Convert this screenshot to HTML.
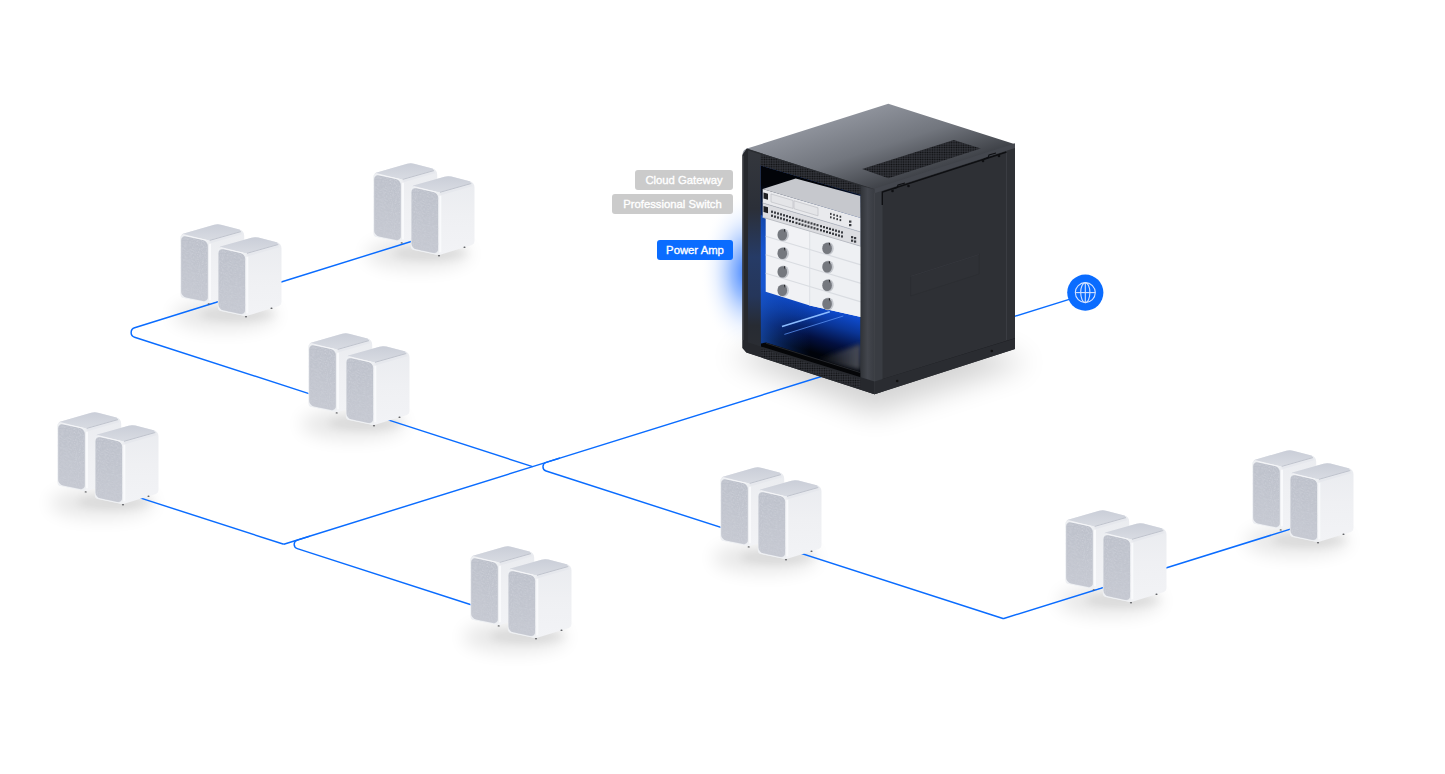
<!DOCTYPE html>
<html><head><meta charset="utf-8"><style>
html,body{margin:0;padding:0;background:#fff;width:1445px;height:774px;overflow:hidden}
svg{position:absolute;left:0;top:0}
.lb{position:absolute;height:20px;line-height:20px;border-radius:3px;color:#fff;font-family:"Liberation Sans",sans-serif;font-size:12px;text-align:center;box-sizing:border-box;font-size:11.3px;-webkit-text-stroke:0.35px #fff;white-space:nowrap}
</style></head><body>
<svg width="1445" height="774" viewBox="0 0 1445 774">
<defs>
<filter id="blur8" x="-50%" y="-50%" width="200%" height="200%"><feGaussianBlur stdDeviation="8"/></filter>
<filter id="blur14" x="-50%" y="-50%" width="200%" height="200%"><feGaussianBlur stdDeviation="14"/></filter>
<filter id="blur9" x="-50%" y="-50%" width="200%" height="200%"><feGaussianBlur stdDeviation="9"/></filter>
<filter id="noise" x="0" y="0" width="100%" height="100%"><feTurbulence type="fractalNoise" baseFrequency="0.9" numOctaves="2" seed="3" result="n"/><feColorMatrix in="n" type="matrix" values="0 0 0 0 0.6  0 0 0 0 0.62  0 0 0 0 0.68  3 0 0 0 -1.3" result="c"/><feComposite in="c" in2="SourceGraphic" operator="in"/></filter>
<filter id="blur4" x="-50%" y="-50%" width="200%" height="200%"><feGaussianBlur stdDeviation="4"/></filter>
<filter id="blur10" x="-50%" y="-50%" width="200%" height="200%"><feGaussianBlur stdDeviation="10"/></filter>
<linearGradient id="gside" x1="0" y1="0" x2="0" y2="1"><stop offset="0" stop-color="#e9ebef"/><stop offset="0.5" stop-color="#eff0f3"/><stop offset="1" stop-color="#f2f3f6"/></linearGradient>
<linearGradient id="gtop" x1="0" y1="0" x2="0" y2="1"><stop offset="0" stop-color="#caced8"/><stop offset="1" stop-color="#d8dbe2"/></linearGradient>
<linearGradient id="gfab" x1="0" y1="0" x2="0" y2="1"><stop offset="0" stop-color="#bcc0ca"/><stop offset="1" stop-color="#c5c8d1"/></linearGradient>

<linearGradient id="rtop" gradientUnits="userSpaceOnUse" x1="815" y1="127" x2="839" y2="201">
 <stop offset="0" stop-color="#8e929b"/><stop offset="0.5" stop-color="#72767e"/><stop offset="1" stop-color="#3f4248"/></linearGradient>
<linearGradient id="rint" gradientUnits="userSpaceOnUse" x1="806" y1="300" x2="792" y2="346">
 <stop offset="0" stop-color="#0f4ed6"/><stop offset="0.35" stop-color="#0a3596"/><stop offset="0.7" stop-color="#031040"/><stop offset="1" stop-color="#00030a"/></linearGradient>
<linearGradient id="rintTop" gradientUnits="userSpaceOnUse" x1="0" y1="185" x2="0" y2="250">
 <stop offset="0" stop-color="#020409"/><stop offset="1" stop-color="#020409" stop-opacity="0"/></linearGradient>
<linearGradient id="rintH" gradientUnits="userSpaceOnUse" x1="760" y1="0" x2="861" y2="0">
 <stop offset="0" stop-color="#1a5ad0" stop-opacity="0.7"/><stop offset="0.5" stop-color="#0a3aa0" stop-opacity="0"/></linearGradient>
<linearGradient id="rfloor" gradientUnits="userSpaceOnUse" x1="815" y1="0" x2="860" y2="0">
 <stop offset="0" stop-color="#3a3d45" stop-opacity="0"/><stop offset="1" stop-color="#4a4d55"/></linearGradient>
<filter id="blur2" x="-20%" y="-20%" width="140%" height="140%"><feGaussianBlur stdDeviation="2"/></filter>
<linearGradient id="rpostL" gradientUnits="userSpaceOnUse" x1="0" y1="150" x2="0" y2="345">
 <stop offset="0" stop-color="#34373d"/><stop offset="0.3" stop-color="#2b2f38"/><stop offset="0.55" stop-color="#263b66"/><stop offset="0.75" stop-color="#25365a"/><stop offset="0.9" stop-color="#272b33"/><stop offset="1" stop-color="#2a2d33"/></linearGradient>
<linearGradient id="rpostR" gradientUnits="userSpaceOnUse" x1="860" y1="0" x2="875" y2="0">
 <stop offset="0" stop-color="#2f3237"/><stop offset="0.5" stop-color="#43464d"/><stop offset="1" stop-color="#383b41"/></linearGradient>
<radialGradient id="glow" cx="0.5" cy="0.5" r="0.5">
 <stop offset="0" stop-color="#1f6dff" stop-opacity="0.9"/><stop offset="0.35" stop-color="#4d8dff" stop-opacity="0.55"/><stop offset="0.7" stop-color="#a9c8ff" stop-opacity="0.2"/><stop offset="1" stop-color="#ffffff" stop-opacity="0"/></radialGradient>
<pattern id="dots" width="2.4" height="2.4" patternUnits="userSpaceOnUse"><rect width="2.4" height="2.4" fill="#34363c"/><circle cx="1.2" cy="1.2" r="0.85" fill="#0d0e10"/></pattern>
<linearGradient id="rshadow" x1="0" y1="0" x2="0" y2="1"><stop offset="0" stop-color="#000" stop-opacity="0.25"/><stop offset="1" stop-color="#000" stop-opacity="0"/></linearGradient>

</defs>
<ellipse cx="225" cy="315" rx="52" ry="15" fill="#000" opacity="0.095" filter="url(#blur9)"/><ellipse cx="238" cy="314" rx="38" ry="7" fill="#000" opacity="0.06" filter="url(#blur4)"/>
<ellipse cx="418" cy="254" rx="52" ry="15" fill="#000" opacity="0.095" filter="url(#blur9)"/><ellipse cx="431" cy="253" rx="38" ry="7" fill="#000" opacity="0.06" filter="url(#blur4)"/>
<ellipse cx="353" cy="424" rx="52" ry="15" fill="#000" opacity="0.095" filter="url(#blur9)"/><ellipse cx="366" cy="423" rx="38" ry="7" fill="#000" opacity="0.06" filter="url(#blur4)"/>
<ellipse cx="102" cy="503" rx="52" ry="15" fill="#000" opacity="0.095" filter="url(#blur9)"/><ellipse cx="115" cy="502" rx="38" ry="7" fill="#000" opacity="0.06" filter="url(#blur4)"/>
<ellipse cx="515" cy="637" rx="52" ry="15" fill="#000" opacity="0.095" filter="url(#blur9)"/><ellipse cx="528" cy="636" rx="38" ry="7" fill="#000" opacity="0.06" filter="url(#blur4)"/>
<ellipse cx="765" cy="558" rx="52" ry="15" fill="#000" opacity="0.095" filter="url(#blur9)"/><ellipse cx="778" cy="557" rx="38" ry="7" fill="#000" opacity="0.06" filter="url(#blur4)"/>
<ellipse cx="1110" cy="601" rx="52" ry="15" fill="#000" opacity="0.095" filter="url(#blur9)"/><ellipse cx="1123" cy="600" rx="38" ry="7" fill="#000" opacity="0.06" filter="url(#blur4)"/>
<ellipse cx="1297" cy="541" rx="52" ry="15" fill="#000" opacity="0.095" filter="url(#blur9)"/><ellipse cx="1310" cy="540" rx="38" ry="7" fill="#000" opacity="0.06" filter="url(#blur4)"/>
<polygon points="728,356 874,414 1030,362 885,318" fill="#000" opacity="0.17" filter="url(#blur14)"/>
<ellipse cx="748" cy="272" rx="48" ry="80" fill="url(#glow)"/>
<path d="M835,372.25 L532.6,466.6 L283.8,544.3" fill="none" stroke="#0a6cff" stroke-width="1.45"/>
<path d="M532.6,466.6 L385,418.93" fill="none" stroke="#0a6cff" stroke-width="1.45"/>
<path d="M312,394.59 L134.58,337.29 A5,5 0 0 1 134.63,327.76 L230,298" fill="none" stroke="#0a6cff" stroke-width="1.45"/>
<path d="M270,285.52 L420,238.72" fill="none" stroke="#0a6cff" stroke-width="1.45"/>
<path d="M560,458.05 L546.13,462.38 A4.5,4.5 0 0 0 546.09,470.96 L1002.95,618.52 A1.5,1.5 0 0 0 1003.85,618.53 L1300,526.13" fill="none" stroke="#0a6cff" stroke-width="1.45"/>
<path d="M283.8,544.3 L130,494.62" fill="none" stroke="#0a6cff" stroke-width="1.45"/>
<path d="M310,536.13 L297.33,540.08 A4.5,4.5 0 0 0 297.29,548.66 L485,609.29" fill="none" stroke="#0a6cff" stroke-width="1.45"/>
<path d="M1005,319.36 L1070,299.08" fill="none" stroke="#0a6cff" stroke-width="1.45"/>
<polygon points="874.5,189.5 1015,144.2 1015,348.9 874.5,394.2" fill="#2e3035" />
<polygon points="874.5,189.5 882.5,187 882.5,391.6 874.5,394.2" fill="#393c42" />
<line x1="1006.5" y1="150" x2="1006.5" y2="340" stroke="#3d4046" stroke-width="0.8"/>
<polyline points="882.3,205 882.3,192 1006.5,152" fill="none" stroke="#0e0f12" stroke-width="1.4"/>
<line x1="882.5" y1="379.6" x2="1015" y2="338.6" stroke="#1b1c20" stroke-width="0.9"/>
<polygon points="874.5,381.6 1015,338.6 1015,348.9 874.5,394.2" fill="#2a2c31" />
<circle cx="897.2" cy="381" r="1.3" fill="#111"/><circle cx="991.8" cy="351" r="1.3" fill="#111"/>
<polygon points="910.6,276.3 979.1,254.5 979.1,274 910.6,296" fill="#2f3136" stroke="#2a2c31" stroke-width="0.5"/>
<polyline points="910.6,276.3 979.1,254.5" fill="none" stroke="#3a3d43" stroke-width="0.6"/>
<path d="M742.5,155 Q742.5,150 747,148.6 L888.3,103.8 L1015,144.2 L874.5,189.5 Z" fill="url(#rtop)"/>
<polygon points="874.5,188.6 1015,143.3 1015,148 874.5,193.3" fill="#44474e" />
<polygon points="862.1,169 953.8,139.9 980.8,148.4 888.4,178.3" fill="url(#dots)" />
<g fill="#0e0f12"><circle cx="892.5" cy="191" r="1.3"/><circle cx="908.5" cy="186" r="1.3"/><circle cx="983" cy="161" r="1.3"/><circle cx="999" cy="156" r="1.3"/></g>
<polyline points="893,189 897,187.6 898,185 905,183" fill="none" stroke="#0e0f12" stroke-width="1.1"/>
<polyline points="984,159 988,157.6 989,155 996,153" fill="none" stroke="#0e0f12" stroke-width="1.1"/>
<polygon points="742.5,155 747,148.6 874.5,189.5 874.5,394.2 746.4,352.6 742.5,348" fill="#2c2f34" />
<polygon points="748,150.5 760.8,154.5 760.8,346 748,342" fill="url(#rpostL)" />
<polygon points="742.5,155 747,148.6 748,150.5 748,342 742.5,340.5" fill="#26282d" />
<line x1="743.2" y1="156" x2="743.2" y2="340" stroke="#45484f" stroke-width="0.8"/>
<polygon points="760.8,165.6 860.5,194.7 860.5,378.9 760.8,348.3" fill="url(#rint)" />
<polygon points="760.8,165.6 860.5,194.7 860.5,378.9 760.8,348.3" fill="url(#rintTop)" />
<polygon points="760.8,215 860.5,244 860.5,378.9 760.8,348.3" fill="url(#rintH)" />
<polygon points="815,360 860.5,344 860.5,370" fill="url(#rfloor)" filter="url(#blur2)"/>
<polygon points="761,343.5 766,342.5 860.5,372 860.5,378.9 761,348.3" fill="#050608" />
<line x1="766" y1="343.2" x2="860.5" y2="372.6" stroke="#24262b" stroke-width="1"/>
<line x1="782" y1="326.6" x2="829.8" y2="311.7" stroke="#8cbcff" stroke-width="1.6"/>
<line x1="784.4" y1="334.4" x2="843.3" y2="316" stroke="#5a90f0" stroke-width="0.8"/>
<polygon points="765.7,217.8 860.9,246.4 860.9,317 809.7,305.5 765.7,291.7" fill="#f1f2f5" />
<polygon points="809.7,231 860.9,246.4 860.9,317 809.7,305.5" fill="#eef0f3" />
<line x1="765.7" y1="236.3" x2="809.7" y2="249.5" stroke="#d9dce1" stroke-width="1.2"/>
<line x1="809.7" y1="249.5" x2="860.9" y2="264.9" stroke="#d9dce1" stroke-width="1.2"/>
<line x1="765.7" y1="254.8" x2="809.7" y2="268" stroke="#d9dce1" stroke-width="1.2"/>
<line x1="809.7" y1="268" x2="860.9" y2="283.4" stroke="#d9dce1" stroke-width="1.2"/>
<line x1="765.7" y1="273.3" x2="809.7" y2="286.5" stroke="#d9dce1" stroke-width="1.2"/>
<line x1="809.7" y1="286.5" x2="860.9" y2="301.9" stroke="#d9dce1" stroke-width="1.2"/>
<line x1="809.7" y1="231" x2="809.7" y2="305.5" stroke="#d8dbe0" stroke-width="0.8"/>
<ellipse cx="783.3" cy="234.9" rx="5.6" ry="6.4" fill="#c3c6cc"/>
<ellipse cx="782.3" cy="234.9" rx="4.8" ry="5.7" fill="#75787e"/>
<path d="M783.7,229.1 l1.6,0.3 l-0.4,3.2 z" fill="#1d1e21"/>
<ellipse cx="828.1" cy="248.4" rx="5.6" ry="6.4" fill="#c3c6cc"/>
<ellipse cx="827.1" cy="248.4" rx="4.8" ry="5.7" fill="#75787e"/>
<path d="M828.5,242.6 l1.6,0.3 l-0.4,3.2 z" fill="#1d1e21"/>
<ellipse cx="783.3" cy="253.4" rx="5.6" ry="6.4" fill="#c3c6cc"/>
<ellipse cx="782.3" cy="253.4" rx="4.8" ry="5.7" fill="#75787e"/>
<path d="M783.7,247.6 l1.6,0.3 l-0.4,3.2 z" fill="#1d1e21"/>
<ellipse cx="828.1" cy="266.9" rx="5.6" ry="6.4" fill="#c3c6cc"/>
<ellipse cx="827.1" cy="266.9" rx="4.8" ry="5.7" fill="#75787e"/>
<path d="M828.5,261.1 l1.6,0.3 l-0.4,3.2 z" fill="#1d1e21"/>
<ellipse cx="783.3" cy="271.9" rx="5.6" ry="6.4" fill="#c3c6cc"/>
<ellipse cx="782.3" cy="271.9" rx="4.8" ry="5.7" fill="#75787e"/>
<path d="M783.7,266.1 l1.6,0.3 l-0.4,3.2 z" fill="#1d1e21"/>
<ellipse cx="828.1" cy="285.4" rx="5.6" ry="6.4" fill="#c3c6cc"/>
<ellipse cx="827.1" cy="285.4" rx="4.8" ry="5.7" fill="#75787e"/>
<path d="M828.5,279.6 l1.6,0.3 l-0.4,3.2 z" fill="#1d1e21"/>
<ellipse cx="783.3" cy="290.4" rx="5.6" ry="6.4" fill="#c3c6cc"/>
<ellipse cx="782.3" cy="290.4" rx="4.8" ry="5.7" fill="#75787e"/>
<path d="M783.7,284.6 l1.6,0.3 l-0.4,3.2 z" fill="#1d1e21"/>
<ellipse cx="828.1" cy="303.9" rx="5.6" ry="6.4" fill="#c3c6cc"/>
<ellipse cx="827.1" cy="303.9" rx="4.8" ry="5.7" fill="#75787e"/>
<path d="M828.5,298.1 l1.6,0.3 l-0.4,3.2 z" fill="#1d1e21"/>
<polygon points="762.7,203 860.8,232 860.8,246.4 762.7,217.5" fill="#dcdde1" />
<line x1="762.7" y1="217.3" x2="860.8" y2="246.2" stroke="#b5b7bc" stroke-width="0.8"/>
<rect x="771" y="210.65" width="2" height="2.2" fill="#3a3c41"/>
<rect x="771" y="214.65" width="2" height="2.2" fill="#3a3c41"/>
<rect x="774" y="211.54" width="2" height="2.2" fill="#3a3c41"/>
<rect x="774" y="215.54" width="2" height="2.2" fill="#3a3c41"/>
<rect x="777" y="212.43" width="2" height="2.2" fill="#3a3c41"/>
<rect x="777" y="216.43" width="2" height="2.2" fill="#3a3c41"/>
<rect x="780" y="213.31" width="2" height="2.2" fill="#3a3c41"/>
<rect x="780" y="217.31" width="2" height="2.2" fill="#3a3c41"/>
<rect x="783" y="214.2" width="2" height="2.2" fill="#3a3c41"/>
<rect x="783" y="218.2" width="2" height="2.2" fill="#3a3c41"/>
<rect x="786" y="215.09" width="2" height="2.2" fill="#3a3c41"/>
<rect x="786" y="219.09" width="2" height="2.2" fill="#3a3c41"/>
<rect x="789" y="215.97" width="2" height="2.2" fill="#3a3c41"/>
<rect x="789" y="219.97" width="2" height="2.2" fill="#3a3c41"/>
<rect x="792" y="216.86" width="2" height="2.2" fill="#3a3c41"/>
<rect x="792" y="220.86" width="2" height="2.2" fill="#3a3c41"/>
<rect x="795.5" y="217.89" width="2" height="2.2" fill="#3a3c41"/>
<rect x="795.5" y="221.89" width="2" height="2.2" fill="#3a3c41"/>
<rect x="798.5" y="218.78" width="2" height="2.2" fill="#3a3c41"/>
<rect x="798.5" y="222.78" width="2" height="2.2" fill="#3a3c41"/>
<rect x="801.5" y="219.67" width="2" height="2.2" fill="#3a3c41"/>
<rect x="801.5" y="223.67" width="2" height="2.2" fill="#3a3c41"/>
<rect x="804.5" y="220.55" width="2" height="2.2" fill="#3a3c41"/>
<rect x="804.5" y="224.55" width="2" height="2.2" fill="#3a3c41"/>
<rect x="807.5" y="221.44" width="2" height="2.2" fill="#3a3c41"/>
<rect x="807.5" y="225.44" width="2" height="2.2" fill="#3a3c41"/>
<rect x="810.5" y="222.32" width="2" height="2.2" fill="#3a3c41"/>
<rect x="810.5" y="226.32" width="2" height="2.2" fill="#3a3c41"/>
<rect x="813.5" y="223.21" width="2" height="2.2" fill="#3a3c41"/>
<rect x="813.5" y="227.21" width="2" height="2.2" fill="#3a3c41"/>
<rect x="816.5" y="224.1" width="2" height="2.2" fill="#3a3c41"/>
<rect x="816.5" y="228.1" width="2" height="2.2" fill="#3a3c41"/>
<rect x="820" y="225.13" width="2" height="2.2" fill="#3a3c41"/>
<rect x="820" y="229.13" width="2" height="2.2" fill="#3a3c41"/>
<rect x="823" y="226.02" width="2" height="2.2" fill="#3a3c41"/>
<rect x="823" y="230.02" width="2" height="2.2" fill="#3a3c41"/>
<rect x="826" y="226.91" width="2" height="2.2" fill="#3a3c41"/>
<rect x="826" y="230.91" width="2" height="2.2" fill="#3a3c41"/>
<rect x="829" y="227.79" width="2" height="2.2" fill="#3a3c41"/>
<rect x="829" y="231.79" width="2" height="2.2" fill="#3a3c41"/>
<rect x="832" y="228.68" width="2" height="2.2" fill="#3a3c41"/>
<rect x="832" y="232.68" width="2" height="2.2" fill="#3a3c41"/>
<rect x="835" y="229.56" width="2" height="2.2" fill="#3a3c41"/>
<rect x="835" y="233.56" width="2" height="2.2" fill="#3a3c41"/>
<rect x="838" y="230.45" width="2" height="2.2" fill="#3a3c41"/>
<rect x="838" y="234.45" width="2" height="2.2" fill="#3a3c41"/>
<rect x="841" y="231.34" width="2" height="2.2" fill="#3a3c41"/>
<rect x="841" y="235.34" width="2" height="2.2" fill="#3a3c41"/>
<rect x="851" y="236.09" width="2.2" height="2.2" fill="#3a3c41"/>
<rect x="854" y="236.98" width="2.2" height="2.2" fill="#3a3c41"/>
<rect x="851" y="239.59" width="2.2" height="2.2" fill="#3a3c41"/>
<rect x="854" y="240.48" width="2.2" height="2.2" fill="#3a3c41"/>
<polygon points="763.5,206 768,207.3 768,213.3 763.5,212" fill="#1f2024" />
<polygon points="762.7,189 795.7,178.6 860.5,196 860.8,217.9" fill="#c6c8cd" />
<polygon points="762.7,189 860.8,217.9 860.8,232 762.7,203" fill="#e9eaed" />
<line x1="762.7" y1="203" x2="860.8" y2="232" stroke="#b9bbc0" stroke-width="0.8"/>
<polygon points="763.5,192.5 768,193.8 768,199.8 763.5,198.5" fill="#1f2024" />
<polygon points="771,193.95 793,200.45 793,208.45 771,201.95" fill="#e4e5e8" stroke="#b9bbc0" stroke-width="0.6"/>
<polygon points="794,200.75 818,207.84 818,215.84 794,208.75" fill="#e4e5e8" stroke="#b9bbc0" stroke-width="0.6"/>
<rect x="830" y="212.89" width="1.6" height="2" fill="#3a3c41"/>
<rect x="830" y="216.29" width="1.6" height="2" fill="#3a3c41"/>
<rect x="833.2" y="213.83" width="1.6" height="2" fill="#3a3c41"/>
<rect x="833.2" y="217.23" width="1.6" height="2" fill="#3a3c41"/>
<rect x="836.4" y="214.78" width="1.6" height="2" fill="#3a3c41"/>
<rect x="836.4" y="218.18" width="1.6" height="2" fill="#3a3c41"/>
<rect x="839.6" y="215.72" width="1.6" height="2" fill="#3a3c41"/>
<rect x="839.6" y="219.12" width="1.6" height="2" fill="#3a3c41"/>
<rect x="849" y="220.5" width="2.4" height="2.2" fill="#3a3c41"/>
<rect x="849" y="224" width="2.4" height="2.2" fill="#3a3c41"/>
<polygon points="760.8,154 860.5,185.8 860.5,194.7 760.8,165.6" fill="url(#dots)" />
<line x1="747" y1="149.4" x2="874.5" y2="189.6" stroke="#2a2c31" stroke-width="0.9"/>
<polygon points="860.5,185.8 874.5,189.5 874.5,394.2 860.5,389" fill="url(#rpostR)" />
<polygon points="742.5,340.5 760.8,346.5 874.5,381.6 874.5,394.2 746.4,352.6 742.5,348" fill="#26282d" />
<polygon points="760.8,348.3 860.1,378.9 860.1,388.1 760.8,356.8" fill="url(#dots)" />
<g><path d="M183,233.71 L214.24,224.76 A12.825,12.825 0 0 1 220.99,224.68 L239.36,229.44 A6.462,6.462 0 0 1 244.2,235.7 L244.2,288.9 A4.736,4.736 0 0 1 240.85,293.43 L211.57,302.42 A11.631,11.631 0 0 1 205.76,302.68 L184.03,298.12 A4.311,4.311 0 0 1 180.6,293.9 L180.6,236.9 A3.317,3.317 0 0 1 183,233.71 Z" fill="url(#gside)"/>
<path d="M183,233.71 L214.24,224.76 A12.825,12.825 0 0 1 220.99,224.68 L239.36,229.44 A1.325,1.325 0 0 1 239.37,232.01 L208.71,240.3 A0.042,0.042 0 0 1 208.69,240.3 L183.05,234.91 A0.62,0.62 0 0 1 183,233.71 Z" fill="url(#gtop)"/>
<polyline points="210.2,242.2 241.7,233.2" fill="none" stroke="#e6e8ed" stroke-width="2.4"/>
<polyline points="209.7,240.4 241,231.6" fill="none" stroke="#bfc3cd" stroke-width="1"/>
<path d="M183.05,234.91 L208.69,240.3 A0.012,0.012 0 0 1 208.7,240.31 L208.7,300.8 A2.03,2.03 0 0 1 206.25,302.79 L183.54,298.02 A3.695,3.695 0 0 1 180.6,294.4 L180.6,236.9 A2.03,2.03 0 0 1 183.05,234.91 Z" fill="#eef0f3"/>
<rect transform="matrix(1,0.212,0,1,180.6,234.4)" x="0.6" y="0.9" width="26.6" height="61" rx="4.8" fill="url(#gfab)"/>
<rect transform="matrix(1,0.212,0,1,180.6,234.4)" x="0.6" y="0.9" width="26.6" height="61" rx="4.8" fill="#8a8f9c" filter="url(#noise)"/>
<polyline points="183.1,234.5 205.7,240.2" fill="none" stroke="#f7f8fa" stroke-width="0.8"/>
<line x1="210" y1="243.8" x2="210" y2="300.3" stroke="#f9fafc" stroke-width="2"/>
<ellipse cx="208.7" cy="303.9" rx="1.1" ry="0.7" fill="#5a5c60"/>
<ellipse cx="234.2" cy="295.3" rx="1.1" ry="0.7" fill="#5a5c60"/>
<path d="M220.3,246.61 L251.54,237.66 A12.825,12.825 0 0 1 258.29,237.58 L276.66,242.34 A6.462,6.462 0 0 1 281.5,248.6 L281.5,301.8 A4.736,4.736 0 0 1 278.15,306.33 L248.87,315.32 A11.631,11.631 0 0 1 243.06,315.58 L221.33,311.02 A4.311,4.311 0 0 1 217.9,306.8 L217.9,249.8 A3.317,3.317 0 0 1 220.3,246.61 Z" fill="url(#gside)"/>
<path d="M220.3,246.61 L251.54,237.66 A12.825,12.825 0 0 1 258.29,237.58 L276.66,242.34 A1.325,1.325 0 0 1 276.67,244.91 L246.01,253.2 A0.042,0.042 0 0 1 245.99,253.2 L220.35,247.81 A0.62,0.62 0 0 1 220.3,246.61 Z" fill="url(#gtop)"/>
<polyline points="247.5,255.1 279,246.1" fill="none" stroke="#e6e8ed" stroke-width="2.4"/>
<polyline points="247,253.3 278.3,244.5" fill="none" stroke="#bfc3cd" stroke-width="1"/>
<path d="M220.35,247.81 L245.99,253.2 A0.012,0.012 0 0 1 246,253.21 L246,313.7 A2.03,2.03 0 0 1 243.55,315.69 L220.84,310.92 A3.695,3.695 0 0 1 217.9,307.3 L217.9,249.8 A2.03,2.03 0 0 1 220.35,247.81 Z" fill="#eef0f3"/>
<rect transform="matrix(1,0.212,0,1,217.9,247.3)" x="0.6" y="0.9" width="26.6" height="61" rx="4.8" fill="url(#gfab)"/>
<rect transform="matrix(1,0.212,0,1,217.9,247.3)" x="0.6" y="0.9" width="26.6" height="61" rx="4.8" fill="#8a8f9c" filter="url(#noise)"/>
<polyline points="220.4,247.4 243,253.1" fill="none" stroke="#f7f8fa" stroke-width="0.8"/>
<line x1="247.3" y1="256.7" x2="247.3" y2="313.2" stroke="#f9fafc" stroke-width="2"/>
<ellipse cx="246" cy="316.8" rx="1.1" ry="0.7" fill="#5a5c60"/>
<ellipse cx="271.5" cy="308.2" rx="1.1" ry="0.7" fill="#5a5c60"/></g>
<g><path d="M376,172.71 L407.24,163.76 A12.825,12.825 0 0 1 413.99,163.68 L432.36,168.44 A6.462,6.462 0 0 1 437.2,174.7 L437.2,227.9 A4.736,4.736 0 0 1 433.85,232.43 L404.57,241.42 A11.631,11.631 0 0 1 398.76,241.68 L377.03,237.12 A4.311,4.311 0 0 1 373.6,232.9 L373.6,175.9 A3.317,3.317 0 0 1 376,172.71 Z" fill="url(#gside)"/>
<path d="M376,172.71 L407.24,163.76 A12.825,12.825 0 0 1 413.99,163.68 L432.36,168.44 A1.325,1.325 0 0 1 432.37,171.01 L401.71,179.3 A0.042,0.042 0 0 1 401.69,179.3 L376.05,173.91 A0.62,0.62 0 0 1 376,172.71 Z" fill="url(#gtop)"/>
<polyline points="403.2,181.2 434.7,172.2" fill="none" stroke="#e6e8ed" stroke-width="2.4"/>
<polyline points="402.7,179.4 434,170.6" fill="none" stroke="#bfc3cd" stroke-width="1"/>
<path d="M376.05,173.91 L401.69,179.3 A0.012,0.012 0 0 1 401.7,179.31 L401.7,239.8 A2.03,2.03 0 0 1 399.25,241.79 L376.54,237.02 A3.695,3.695 0 0 1 373.6,233.4 L373.6,175.9 A2.03,2.03 0 0 1 376.05,173.91 Z" fill="#eef0f3"/>
<rect transform="matrix(1,0.212,0,1,373.6,173.4)" x="0.6" y="0.9" width="26.6" height="61" rx="4.8" fill="url(#gfab)"/>
<rect transform="matrix(1,0.212,0,1,373.6,173.4)" x="0.6" y="0.9" width="26.6" height="61" rx="4.8" fill="#8a8f9c" filter="url(#noise)"/>
<polyline points="376.1,173.5 398.7,179.2" fill="none" stroke="#f7f8fa" stroke-width="0.8"/>
<line x1="403" y1="182.8" x2="403" y2="239.3" stroke="#f9fafc" stroke-width="2"/>
<ellipse cx="401.7" cy="242.9" rx="1.1" ry="0.7" fill="#5a5c60"/>
<ellipse cx="427.2" cy="234.3" rx="1.1" ry="0.7" fill="#5a5c60"/>
<path d="M413.3,185.61 L444.54,176.66 A12.825,12.825 0 0 1 451.29,176.58 L469.66,181.34 A6.462,6.462 0 0 1 474.5,187.6 L474.5,240.8 A4.736,4.736 0 0 1 471.15,245.33 L441.87,254.32 A11.631,11.631 0 0 1 436.06,254.58 L414.33,250.02 A4.311,4.311 0 0 1 410.9,245.8 L410.9,188.8 A3.317,3.317 0 0 1 413.3,185.61 Z" fill="url(#gside)"/>
<path d="M413.3,185.61 L444.54,176.66 A12.825,12.825 0 0 1 451.29,176.58 L469.66,181.34 A1.325,1.325 0 0 1 469.67,183.91 L439.01,192.2 A0.042,0.042 0 0 1 438.99,192.2 L413.35,186.81 A0.62,0.62 0 0 1 413.3,185.61 Z" fill="url(#gtop)"/>
<polyline points="440.5,194.1 472,185.1" fill="none" stroke="#e6e8ed" stroke-width="2.4"/>
<polyline points="440,192.3 471.3,183.5" fill="none" stroke="#bfc3cd" stroke-width="1"/>
<path d="M413.35,186.81 L438.99,192.2 A0.012,0.012 0 0 1 439,192.21 L439,252.7 A2.03,2.03 0 0 1 436.55,254.69 L413.84,249.92 A3.695,3.695 0 0 1 410.9,246.3 L410.9,188.8 A2.03,2.03 0 0 1 413.35,186.81 Z" fill="#eef0f3"/>
<rect transform="matrix(1,0.212,0,1,410.9,186.3)" x="0.6" y="0.9" width="26.6" height="61" rx="4.8" fill="url(#gfab)"/>
<rect transform="matrix(1,0.212,0,1,410.9,186.3)" x="0.6" y="0.9" width="26.6" height="61" rx="4.8" fill="#8a8f9c" filter="url(#noise)"/>
<polyline points="413.4,186.4 436,192.1" fill="none" stroke="#f7f8fa" stroke-width="0.8"/>
<line x1="440.3" y1="195.7" x2="440.3" y2="252.2" stroke="#f9fafc" stroke-width="2"/>
<ellipse cx="439" cy="255.8" rx="1.1" ry="0.7" fill="#5a5c60"/>
<ellipse cx="464.5" cy="247.2" rx="1.1" ry="0.7" fill="#5a5c60"/></g>
<g><path d="M311,342.71 L342.24,333.76 A12.825,12.825 0 0 1 348.99,333.68 L367.36,338.44 A6.462,6.462 0 0 1 372.2,344.7 L372.2,397.9 A4.736,4.736 0 0 1 368.85,402.43 L339.57,411.42 A11.631,11.631 0 0 1 333.76,411.68 L312.03,407.12 A4.311,4.311 0 0 1 308.6,402.9 L308.6,345.9 A3.317,3.317 0 0 1 311,342.71 Z" fill="url(#gside)"/>
<path d="M311,342.71 L342.24,333.76 A12.825,12.825 0 0 1 348.99,333.68 L367.36,338.44 A1.325,1.325 0 0 1 367.37,341.01 L336.71,349.3 A0.042,0.042 0 0 1 336.69,349.3 L311.05,343.91 A0.62,0.62 0 0 1 311,342.71 Z" fill="url(#gtop)"/>
<polyline points="338.2,351.2 369.7,342.2" fill="none" stroke="#e6e8ed" stroke-width="2.4"/>
<polyline points="337.7,349.4 369,340.6" fill="none" stroke="#bfc3cd" stroke-width="1"/>
<path d="M311.05,343.91 L336.69,349.3 A0.012,0.012 0 0 1 336.7,349.31 L336.7,409.8 A2.03,2.03 0 0 1 334.25,411.79 L311.54,407.02 A3.695,3.695 0 0 1 308.6,403.4 L308.6,345.9 A2.03,2.03 0 0 1 311.05,343.91 Z" fill="#eef0f3"/>
<rect transform="matrix(1,0.212,0,1,308.6,343.4)" x="0.6" y="0.9" width="26.6" height="61" rx="4.8" fill="url(#gfab)"/>
<rect transform="matrix(1,0.212,0,1,308.6,343.4)" x="0.6" y="0.9" width="26.6" height="61" rx="4.8" fill="#8a8f9c" filter="url(#noise)"/>
<polyline points="311.1,343.5 333.7,349.2" fill="none" stroke="#f7f8fa" stroke-width="0.8"/>
<line x1="338" y1="352.8" x2="338" y2="409.3" stroke="#f9fafc" stroke-width="2"/>
<ellipse cx="336.7" cy="412.9" rx="1.1" ry="0.7" fill="#5a5c60"/>
<ellipse cx="362.2" cy="404.3" rx="1.1" ry="0.7" fill="#5a5c60"/>
<path d="M348.3,355.61 L379.54,346.66 A12.825,12.825 0 0 1 386.29,346.58 L404.66,351.34 A6.462,6.462 0 0 1 409.5,357.6 L409.5,410.8 A4.736,4.736 0 0 1 406.15,415.33 L376.87,424.32 A11.631,11.631 0 0 1 371.06,424.58 L349.33,420.02 A4.311,4.311 0 0 1 345.9,415.8 L345.9,358.8 A3.317,3.317 0 0 1 348.3,355.61 Z" fill="url(#gside)"/>
<path d="M348.3,355.61 L379.54,346.66 A12.825,12.825 0 0 1 386.29,346.58 L404.66,351.34 A1.325,1.325 0 0 1 404.67,353.91 L374.01,362.2 A0.042,0.042 0 0 1 373.99,362.2 L348.35,356.81 A0.62,0.62 0 0 1 348.3,355.61 Z" fill="url(#gtop)"/>
<polyline points="375.5,364.1 407,355.1" fill="none" stroke="#e6e8ed" stroke-width="2.4"/>
<polyline points="375,362.3 406.3,353.5" fill="none" stroke="#bfc3cd" stroke-width="1"/>
<path d="M348.35,356.81 L373.99,362.2 A0.012,0.012 0 0 1 374,362.21 L374,422.7 A2.03,2.03 0 0 1 371.55,424.69 L348.84,419.92 A3.695,3.695 0 0 1 345.9,416.3 L345.9,358.8 A2.03,2.03 0 0 1 348.35,356.81 Z" fill="#eef0f3"/>
<rect transform="matrix(1,0.212,0,1,345.9,356.3)" x="0.6" y="0.9" width="26.6" height="61" rx="4.8" fill="url(#gfab)"/>
<rect transform="matrix(1,0.212,0,1,345.9,356.3)" x="0.6" y="0.9" width="26.6" height="61" rx="4.8" fill="#8a8f9c" filter="url(#noise)"/>
<polyline points="348.4,356.4 371,362.1" fill="none" stroke="#f7f8fa" stroke-width="0.8"/>
<line x1="375.3" y1="365.7" x2="375.3" y2="422.2" stroke="#f9fafc" stroke-width="2"/>
<ellipse cx="374" cy="425.8" rx="1.1" ry="0.7" fill="#5a5c60"/>
<ellipse cx="399.5" cy="417.2" rx="1.1" ry="0.7" fill="#5a5c60"/></g>
<g><path d="M60,421.71 L91.24,412.76 A12.825,12.825 0 0 1 97.99,412.68 L116.36,417.44 A6.462,6.462 0 0 1 121.2,423.7 L121.2,476.9 A4.736,4.736 0 0 1 117.85,481.43 L88.57,490.42 A11.631,11.631 0 0 1 82.76,490.68 L61.03,486.12 A4.311,4.311 0 0 1 57.6,481.9 L57.6,424.9 A3.317,3.317 0 0 1 60,421.71 Z" fill="url(#gside)"/>
<path d="M60,421.71 L91.24,412.76 A12.825,12.825 0 0 1 97.99,412.68 L116.36,417.44 A1.325,1.325 0 0 1 116.37,420.01 L85.71,428.3 A0.042,0.042 0 0 1 85.69,428.3 L60.05,422.91 A0.62,0.62 0 0 1 60,421.71 Z" fill="url(#gtop)"/>
<polyline points="87.2,430.2 118.7,421.2" fill="none" stroke="#e6e8ed" stroke-width="2.4"/>
<polyline points="86.7,428.4 118,419.6" fill="none" stroke="#bfc3cd" stroke-width="1"/>
<path d="M60.05,422.91 L85.69,428.3 A0.012,0.012 0 0 1 85.7,428.31 L85.7,488.8 A2.03,2.03 0 0 1 83.25,490.79 L60.54,486.02 A3.695,3.695 0 0 1 57.6,482.4 L57.6,424.9 A2.03,2.03 0 0 1 60.05,422.91 Z" fill="#eef0f3"/>
<rect transform="matrix(1,0.212,0,1,57.6,422.4)" x="0.6" y="0.9" width="26.6" height="61" rx="4.8" fill="url(#gfab)"/>
<rect transform="matrix(1,0.212,0,1,57.6,422.4)" x="0.6" y="0.9" width="26.6" height="61" rx="4.8" fill="#8a8f9c" filter="url(#noise)"/>
<polyline points="60.1,422.5 82.7,428.2" fill="none" stroke="#f7f8fa" stroke-width="0.8"/>
<line x1="87" y1="431.8" x2="87" y2="488.3" stroke="#f9fafc" stroke-width="2"/>
<ellipse cx="85.7" cy="491.9" rx="1.1" ry="0.7" fill="#5a5c60"/>
<ellipse cx="111.2" cy="483.3" rx="1.1" ry="0.7" fill="#5a5c60"/>
<path d="M97.3,434.61 L128.54,425.66 A12.825,12.825 0 0 1 135.29,425.58 L153.66,430.34 A6.462,6.462 0 0 1 158.5,436.6 L158.5,489.8 A4.736,4.736 0 0 1 155.15,494.33 L125.87,503.32 A11.631,11.631 0 0 1 120.06,503.58 L98.33,499.02 A4.311,4.311 0 0 1 94.9,494.8 L94.9,437.8 A3.317,3.317 0 0 1 97.3,434.61 Z" fill="url(#gside)"/>
<path d="M97.3,434.61 L128.54,425.66 A12.825,12.825 0 0 1 135.29,425.58 L153.66,430.34 A1.325,1.325 0 0 1 153.67,432.91 L123.01,441.2 A0.042,0.042 0 0 1 122.99,441.2 L97.35,435.81 A0.62,0.62 0 0 1 97.3,434.61 Z" fill="url(#gtop)"/>
<polyline points="124.5,443.1 156,434.1" fill="none" stroke="#e6e8ed" stroke-width="2.4"/>
<polyline points="124,441.3 155.3,432.5" fill="none" stroke="#bfc3cd" stroke-width="1"/>
<path d="M97.35,435.81 L122.99,441.2 A0.012,0.012 0 0 1 123,441.21 L123,501.7 A2.03,2.03 0 0 1 120.55,503.69 L97.84,498.92 A3.695,3.695 0 0 1 94.9,495.3 L94.9,437.8 A2.03,2.03 0 0 1 97.35,435.81 Z" fill="#eef0f3"/>
<rect transform="matrix(1,0.212,0,1,94.9,435.3)" x="0.6" y="0.9" width="26.6" height="61" rx="4.8" fill="url(#gfab)"/>
<rect transform="matrix(1,0.212,0,1,94.9,435.3)" x="0.6" y="0.9" width="26.6" height="61" rx="4.8" fill="#8a8f9c" filter="url(#noise)"/>
<polyline points="97.4,435.4 120,441.1" fill="none" stroke="#f7f8fa" stroke-width="0.8"/>
<line x1="124.3" y1="444.7" x2="124.3" y2="501.2" stroke="#f9fafc" stroke-width="2"/>
<ellipse cx="123" cy="504.8" rx="1.1" ry="0.7" fill="#5a5c60"/>
<ellipse cx="148.5" cy="496.2" rx="1.1" ry="0.7" fill="#5a5c60"/></g>
<g><path d="M473,555.71 L504.24,546.76 A12.825,12.825 0 0 1 510.99,546.68 L529.36,551.44 A6.462,6.462 0 0 1 534.2,557.7 L534.2,610.9 A4.736,4.736 0 0 1 530.85,615.43 L501.57,624.42 A11.631,11.631 0 0 1 495.76,624.68 L474.03,620.12 A4.311,4.311 0 0 1 470.6,615.9 L470.6,558.9 A3.317,3.317 0 0 1 473,555.71 Z" fill="url(#gside)"/>
<path d="M473,555.71 L504.24,546.76 A12.825,12.825 0 0 1 510.99,546.68 L529.36,551.44 A1.325,1.325 0 0 1 529.37,554.01 L498.71,562.3 A0.042,0.042 0 0 1 498.69,562.3 L473.05,556.91 A0.62,0.62 0 0 1 473,555.71 Z" fill="url(#gtop)"/>
<polyline points="500.2,564.2 531.7,555.2" fill="none" stroke="#e6e8ed" stroke-width="2.4"/>
<polyline points="499.7,562.4 531,553.6" fill="none" stroke="#bfc3cd" stroke-width="1"/>
<path d="M473.05,556.91 L498.69,562.3 A0.012,0.012 0 0 1 498.7,562.31 L498.7,622.8 A2.03,2.03 0 0 1 496.25,624.79 L473.54,620.02 A3.695,3.695 0 0 1 470.6,616.4 L470.6,558.9 A2.03,2.03 0 0 1 473.05,556.91 Z" fill="#eef0f3"/>
<rect transform="matrix(1,0.212,0,1,470.6,556.4)" x="0.6" y="0.9" width="26.6" height="61" rx="4.8" fill="url(#gfab)"/>
<rect transform="matrix(1,0.212,0,1,470.6,556.4)" x="0.6" y="0.9" width="26.6" height="61" rx="4.8" fill="#8a8f9c" filter="url(#noise)"/>
<polyline points="473.1,556.5 495.7,562.2" fill="none" stroke="#f7f8fa" stroke-width="0.8"/>
<line x1="500" y1="565.8" x2="500" y2="622.3" stroke="#f9fafc" stroke-width="2"/>
<ellipse cx="498.7" cy="625.9" rx="1.1" ry="0.7" fill="#5a5c60"/>
<ellipse cx="524.2" cy="617.3" rx="1.1" ry="0.7" fill="#5a5c60"/>
<path d="M510.3,568.61 L541.54,559.66 A12.825,12.825 0 0 1 548.29,559.58 L566.66,564.34 A6.462,6.462 0 0 1 571.5,570.6 L571.5,623.8 A4.736,4.736 0 0 1 568.15,628.33 L538.87,637.32 A11.631,11.631 0 0 1 533.06,637.58 L511.33,633.02 A4.311,4.311 0 0 1 507.9,628.8 L507.9,571.8 A3.317,3.317 0 0 1 510.3,568.61 Z" fill="url(#gside)"/>
<path d="M510.3,568.61 L541.54,559.66 A12.825,12.825 0 0 1 548.29,559.58 L566.66,564.34 A1.325,1.325 0 0 1 566.67,566.91 L536.01,575.2 A0.042,0.042 0 0 1 535.99,575.2 L510.35,569.81 A0.62,0.62 0 0 1 510.3,568.61 Z" fill="url(#gtop)"/>
<polyline points="537.5,577.1 569,568.1" fill="none" stroke="#e6e8ed" stroke-width="2.4"/>
<polyline points="537,575.3 568.3,566.5" fill="none" stroke="#bfc3cd" stroke-width="1"/>
<path d="M510.35,569.81 L535.99,575.2 A0.012,0.012 0 0 1 536,575.21 L536,635.7 A2.03,2.03 0 0 1 533.55,637.69 L510.84,632.92 A3.695,3.695 0 0 1 507.9,629.3 L507.9,571.8 A2.03,2.03 0 0 1 510.35,569.81 Z" fill="#eef0f3"/>
<rect transform="matrix(1,0.212,0,1,507.9,569.3)" x="0.6" y="0.9" width="26.6" height="61" rx="4.8" fill="url(#gfab)"/>
<rect transform="matrix(1,0.212,0,1,507.9,569.3)" x="0.6" y="0.9" width="26.6" height="61" rx="4.8" fill="#8a8f9c" filter="url(#noise)"/>
<polyline points="510.4,569.4 533,575.1" fill="none" stroke="#f7f8fa" stroke-width="0.8"/>
<line x1="537.3" y1="578.7" x2="537.3" y2="635.2" stroke="#f9fafc" stroke-width="2"/>
<ellipse cx="536" cy="638.8" rx="1.1" ry="0.7" fill="#5a5c60"/>
<ellipse cx="561.5" cy="630.2" rx="1.1" ry="0.7" fill="#5a5c60"/></g>
<g><path d="M723,476.71 L754.24,467.76 A12.825,12.825 0 0 1 760.99,467.68 L779.36,472.44 A6.462,6.462 0 0 1 784.2,478.7 L784.2,531.9 A4.736,4.736 0 0 1 780.85,536.43 L751.57,545.42 A11.631,11.631 0 0 1 745.76,545.68 L724.03,541.12 A4.311,4.311 0 0 1 720.6,536.9 L720.6,479.9 A3.317,3.317 0 0 1 723,476.71 Z" fill="url(#gside)"/>
<path d="M723,476.71 L754.24,467.76 A12.825,12.825 0 0 1 760.99,467.68 L779.36,472.44 A1.325,1.325 0 0 1 779.37,475.01 L748.71,483.3 A0.042,0.042 0 0 1 748.69,483.3 L723.05,477.91 A0.62,0.62 0 0 1 723,476.71 Z" fill="url(#gtop)"/>
<polyline points="750.2,485.2 781.7,476.2" fill="none" stroke="#e6e8ed" stroke-width="2.4"/>
<polyline points="749.7,483.4 781,474.6" fill="none" stroke="#bfc3cd" stroke-width="1"/>
<path d="M723.05,477.91 L748.69,483.3 A0.012,0.012 0 0 1 748.7,483.31 L748.7,543.8 A2.03,2.03 0 0 1 746.25,545.79 L723.54,541.02 A3.695,3.695 0 0 1 720.6,537.4 L720.6,479.9 A2.03,2.03 0 0 1 723.05,477.91 Z" fill="#eef0f3"/>
<rect transform="matrix(1,0.212,0,1,720.6,477.4)" x="0.6" y="0.9" width="26.6" height="61" rx="4.8" fill="url(#gfab)"/>
<rect transform="matrix(1,0.212,0,1,720.6,477.4)" x="0.6" y="0.9" width="26.6" height="61" rx="4.8" fill="#8a8f9c" filter="url(#noise)"/>
<polyline points="723.1,477.5 745.7,483.2" fill="none" stroke="#f7f8fa" stroke-width="0.8"/>
<line x1="750" y1="486.8" x2="750" y2="543.3" stroke="#f9fafc" stroke-width="2"/>
<ellipse cx="748.7" cy="546.9" rx="1.1" ry="0.7" fill="#5a5c60"/>
<ellipse cx="774.2" cy="538.3" rx="1.1" ry="0.7" fill="#5a5c60"/>
<path d="M760.3,489.61 L791.54,480.66 A12.825,12.825 0 0 1 798.29,480.58 L816.66,485.34 A6.462,6.462 0 0 1 821.5,491.6 L821.5,544.8 A4.736,4.736 0 0 1 818.15,549.33 L788.87,558.32 A11.631,11.631 0 0 1 783.06,558.58 L761.33,554.02 A4.311,4.311 0 0 1 757.9,549.8 L757.9,492.8 A3.317,3.317 0 0 1 760.3,489.61 Z" fill="url(#gside)"/>
<path d="M760.3,489.61 L791.54,480.66 A12.825,12.825 0 0 1 798.29,480.58 L816.66,485.34 A1.325,1.325 0 0 1 816.67,487.91 L786.01,496.2 A0.042,0.042 0 0 1 785.99,496.2 L760.35,490.81 A0.62,0.62 0 0 1 760.3,489.61 Z" fill="url(#gtop)"/>
<polyline points="787.5,498.1 819,489.1" fill="none" stroke="#e6e8ed" stroke-width="2.4"/>
<polyline points="787,496.3 818.3,487.5" fill="none" stroke="#bfc3cd" stroke-width="1"/>
<path d="M760.35,490.81 L785.99,496.2 A0.012,0.012 0 0 1 786,496.21 L786,556.7 A2.03,2.03 0 0 1 783.55,558.69 L760.84,553.92 A3.695,3.695 0 0 1 757.9,550.3 L757.9,492.8 A2.03,2.03 0 0 1 760.35,490.81 Z" fill="#eef0f3"/>
<rect transform="matrix(1,0.212,0,1,757.9,490.3)" x="0.6" y="0.9" width="26.6" height="61" rx="4.8" fill="url(#gfab)"/>
<rect transform="matrix(1,0.212,0,1,757.9,490.3)" x="0.6" y="0.9" width="26.6" height="61" rx="4.8" fill="#8a8f9c" filter="url(#noise)"/>
<polyline points="760.4,490.4 783,496.1" fill="none" stroke="#f7f8fa" stroke-width="0.8"/>
<line x1="787.3" y1="499.7" x2="787.3" y2="556.2" stroke="#f9fafc" stroke-width="2"/>
<ellipse cx="786" cy="559.8" rx="1.1" ry="0.7" fill="#5a5c60"/>
<ellipse cx="811.5" cy="551.2" rx="1.1" ry="0.7" fill="#5a5c60"/></g>
<g><path d="M1068,519.71 L1099.24,510.76 A12.825,12.825 0 0 1 1105.99,510.68 L1124.36,515.44 A6.462,6.462 0 0 1 1129.2,521.7 L1129.2,574.9 A4.736,4.736 0 0 1 1125.85,579.43 L1096.57,588.42 A11.631,11.631 0 0 1 1090.76,588.68 L1069.03,584.12 A4.311,4.311 0 0 1 1065.6,579.9 L1065.6,522.9 A3.317,3.317 0 0 1 1068,519.71 Z" fill="url(#gside)"/>
<path d="M1068,519.71 L1099.24,510.76 A12.825,12.825 0 0 1 1105.99,510.68 L1124.36,515.44 A1.325,1.325 0 0 1 1124.37,518.01 L1093.71,526.3 A0.042,0.042 0 0 1 1093.69,526.3 L1068.05,520.91 A0.62,0.62 0 0 1 1068,519.71 Z" fill="url(#gtop)"/>
<polyline points="1095.2,528.2 1126.7,519.2" fill="none" stroke="#e6e8ed" stroke-width="2.4"/>
<polyline points="1094.7,526.4 1126,517.6" fill="none" stroke="#bfc3cd" stroke-width="1"/>
<path d="M1068.05,520.91 L1093.69,526.3 A0.012,0.012 0 0 1 1093.7,526.31 L1093.7,586.8 A2.03,2.03 0 0 1 1091.25,588.79 L1068.54,584.02 A3.695,3.695 0 0 1 1065.6,580.4 L1065.6,522.9 A2.03,2.03 0 0 1 1068.05,520.91 Z" fill="#eef0f3"/>
<rect transform="matrix(1,0.212,0,1,1065.6,520.4)" x="0.6" y="0.9" width="26.6" height="61" rx="4.8" fill="url(#gfab)"/>
<rect transform="matrix(1,0.212,0,1,1065.6,520.4)" x="0.6" y="0.9" width="26.6" height="61" rx="4.8" fill="#8a8f9c" filter="url(#noise)"/>
<polyline points="1068.1,520.5 1090.7,526.2" fill="none" stroke="#f7f8fa" stroke-width="0.8"/>
<line x1="1095" y1="529.8" x2="1095" y2="586.3" stroke="#f9fafc" stroke-width="2"/>
<ellipse cx="1093.7" cy="589.9" rx="1.1" ry="0.7" fill="#5a5c60"/>
<ellipse cx="1119.2" cy="581.3" rx="1.1" ry="0.7" fill="#5a5c60"/>
<path d="M1105.3,532.61 L1136.54,523.66 A12.825,12.825 0 0 1 1143.29,523.58 L1161.66,528.34 A6.462,6.462 0 0 1 1166.5,534.6 L1166.5,587.8 A4.736,4.736 0 0 1 1163.15,592.33 L1133.87,601.32 A11.631,11.631 0 0 1 1128.06,601.58 L1106.33,597.02 A4.311,4.311 0 0 1 1102.9,592.8 L1102.9,535.8 A3.317,3.317 0 0 1 1105.3,532.61 Z" fill="url(#gside)"/>
<path d="M1105.3,532.61 L1136.54,523.66 A12.825,12.825 0 0 1 1143.29,523.58 L1161.66,528.34 A1.325,1.325 0 0 1 1161.67,530.91 L1131.01,539.2 A0.042,0.042 0 0 1 1130.99,539.2 L1105.35,533.81 A0.62,0.62 0 0 1 1105.3,532.61 Z" fill="url(#gtop)"/>
<polyline points="1132.5,541.1 1164,532.1" fill="none" stroke="#e6e8ed" stroke-width="2.4"/>
<polyline points="1132,539.3 1163.3,530.5" fill="none" stroke="#bfc3cd" stroke-width="1"/>
<path d="M1105.35,533.81 L1130.99,539.2 A0.012,0.012 0 0 1 1131,539.21 L1131,599.7 A2.03,2.03 0 0 1 1128.55,601.69 L1105.84,596.92 A3.695,3.695 0 0 1 1102.9,593.3 L1102.9,535.8 A2.03,2.03 0 0 1 1105.35,533.81 Z" fill="#eef0f3"/>
<rect transform="matrix(1,0.212,0,1,1102.9,533.3)" x="0.6" y="0.9" width="26.6" height="61" rx="4.8" fill="url(#gfab)"/>
<rect transform="matrix(1,0.212,0,1,1102.9,533.3)" x="0.6" y="0.9" width="26.6" height="61" rx="4.8" fill="#8a8f9c" filter="url(#noise)"/>
<polyline points="1105.4,533.4 1128,539.1" fill="none" stroke="#f7f8fa" stroke-width="0.8"/>
<line x1="1132.3" y1="542.7" x2="1132.3" y2="599.2" stroke="#f9fafc" stroke-width="2"/>
<ellipse cx="1131" cy="602.8" rx="1.1" ry="0.7" fill="#5a5c60"/>
<ellipse cx="1156.5" cy="594.2" rx="1.1" ry="0.7" fill="#5a5c60"/></g>
<g><path d="M1255,459.71 L1286.24,450.76 A12.825,12.825 0 0 1 1292.99,450.68 L1311.36,455.44 A6.462,6.462 0 0 1 1316.2,461.7 L1316.2,514.9 A4.736,4.736 0 0 1 1312.85,519.43 L1283.57,528.42 A11.631,11.631 0 0 1 1277.76,528.68 L1256.03,524.12 A4.311,4.311 0 0 1 1252.6,519.9 L1252.6,462.9 A3.317,3.317 0 0 1 1255,459.71 Z" fill="url(#gside)"/>
<path d="M1255,459.71 L1286.24,450.76 A12.825,12.825 0 0 1 1292.99,450.68 L1311.36,455.44 A1.325,1.325 0 0 1 1311.37,458.01 L1280.71,466.3 A0.042,0.042 0 0 1 1280.69,466.3 L1255.05,460.91 A0.62,0.62 0 0 1 1255,459.71 Z" fill="url(#gtop)"/>
<polyline points="1282.2,468.2 1313.7,459.2" fill="none" stroke="#e6e8ed" stroke-width="2.4"/>
<polyline points="1281.7,466.4 1313,457.6" fill="none" stroke="#bfc3cd" stroke-width="1"/>
<path d="M1255.05,460.91 L1280.69,466.3 A0.012,0.012 0 0 1 1280.7,466.31 L1280.7,526.8 A2.03,2.03 0 0 1 1278.25,528.79 L1255.54,524.02 A3.695,3.695 0 0 1 1252.6,520.4 L1252.6,462.9 A2.03,2.03 0 0 1 1255.05,460.91 Z" fill="#eef0f3"/>
<rect transform="matrix(1,0.212,0,1,1252.6,460.4)" x="0.6" y="0.9" width="26.6" height="61" rx="4.8" fill="url(#gfab)"/>
<rect transform="matrix(1,0.212,0,1,1252.6,460.4)" x="0.6" y="0.9" width="26.6" height="61" rx="4.8" fill="#8a8f9c" filter="url(#noise)"/>
<polyline points="1255.1,460.5 1277.7,466.2" fill="none" stroke="#f7f8fa" stroke-width="0.8"/>
<line x1="1282" y1="469.8" x2="1282" y2="526.3" stroke="#f9fafc" stroke-width="2"/>
<ellipse cx="1280.7" cy="529.9" rx="1.1" ry="0.7" fill="#5a5c60"/>
<ellipse cx="1306.2" cy="521.3" rx="1.1" ry="0.7" fill="#5a5c60"/>
<path d="M1292.3,472.61 L1323.54,463.66 A12.825,12.825 0 0 1 1330.29,463.58 L1348.66,468.34 A6.462,6.462 0 0 1 1353.5,474.6 L1353.5,527.8 A4.736,4.736 0 0 1 1350.15,532.33 L1320.87,541.32 A11.631,11.631 0 0 1 1315.06,541.58 L1293.33,537.02 A4.311,4.311 0 0 1 1289.9,532.8 L1289.9,475.8 A3.317,3.317 0 0 1 1292.3,472.61 Z" fill="url(#gside)"/>
<path d="M1292.3,472.61 L1323.54,463.66 A12.825,12.825 0 0 1 1330.29,463.58 L1348.66,468.34 A1.325,1.325 0 0 1 1348.67,470.91 L1318.01,479.2 A0.042,0.042 0 0 1 1317.99,479.2 L1292.35,473.81 A0.62,0.62 0 0 1 1292.3,472.61 Z" fill="url(#gtop)"/>
<polyline points="1319.5,481.1 1351,472.1" fill="none" stroke="#e6e8ed" stroke-width="2.4"/>
<polyline points="1319,479.3 1350.3,470.5" fill="none" stroke="#bfc3cd" stroke-width="1"/>
<path d="M1292.35,473.81 L1317.99,479.2 A0.012,0.012 0 0 1 1318,479.21 L1318,539.7 A2.03,2.03 0 0 1 1315.55,541.69 L1292.84,536.92 A3.695,3.695 0 0 1 1289.9,533.3 L1289.9,475.8 A2.03,2.03 0 0 1 1292.35,473.81 Z" fill="#eef0f3"/>
<rect transform="matrix(1,0.212,0,1,1289.9,473.3)" x="0.6" y="0.9" width="26.6" height="61" rx="4.8" fill="url(#gfab)"/>
<rect transform="matrix(1,0.212,0,1,1289.9,473.3)" x="0.6" y="0.9" width="26.6" height="61" rx="4.8" fill="#8a8f9c" filter="url(#noise)"/>
<polyline points="1292.4,473.4 1315,479.1" fill="none" stroke="#f7f8fa" stroke-width="0.8"/>
<line x1="1319.3" y1="482.7" x2="1319.3" y2="539.2" stroke="#f9fafc" stroke-width="2"/>
<ellipse cx="1318" cy="542.8" rx="1.1" ry="0.7" fill="#5a5c60"/>
<ellipse cx="1343.5" cy="534.2" rx="1.1" ry="0.7" fill="#5a5c60"/></g>

<circle cx="1085.3" cy="292.6" r="18.1" fill="#0a6cff"/>
<g fill="none" stroke="#d3e2ff" stroke-width="1.1">
<circle cx="1085.3" cy="292.6" r="10"/>
<ellipse cx="1085.3" cy="292.6" rx="4.6" ry="10"/>
<line x1="1085.3" y1="282.6" x2="1085.3" y2="302.6"/>
<line x1="1075.3" y1="292.6" x2="1095.3" y2="292.6"/>
</g>
</svg>
<div class="lb" style="left:635px;top:170px;width:98px;background:#cbcbcb">Cloud Gateway</div>
<div class="lb" style="left:612px;top:193.5px;width:121px;background:#cbcbcb">Professional Switch</div>
<div class="lb" style="left:657px;top:240px;width:76px;background:#0a6cff">Power Amp</div>
</body></html>
